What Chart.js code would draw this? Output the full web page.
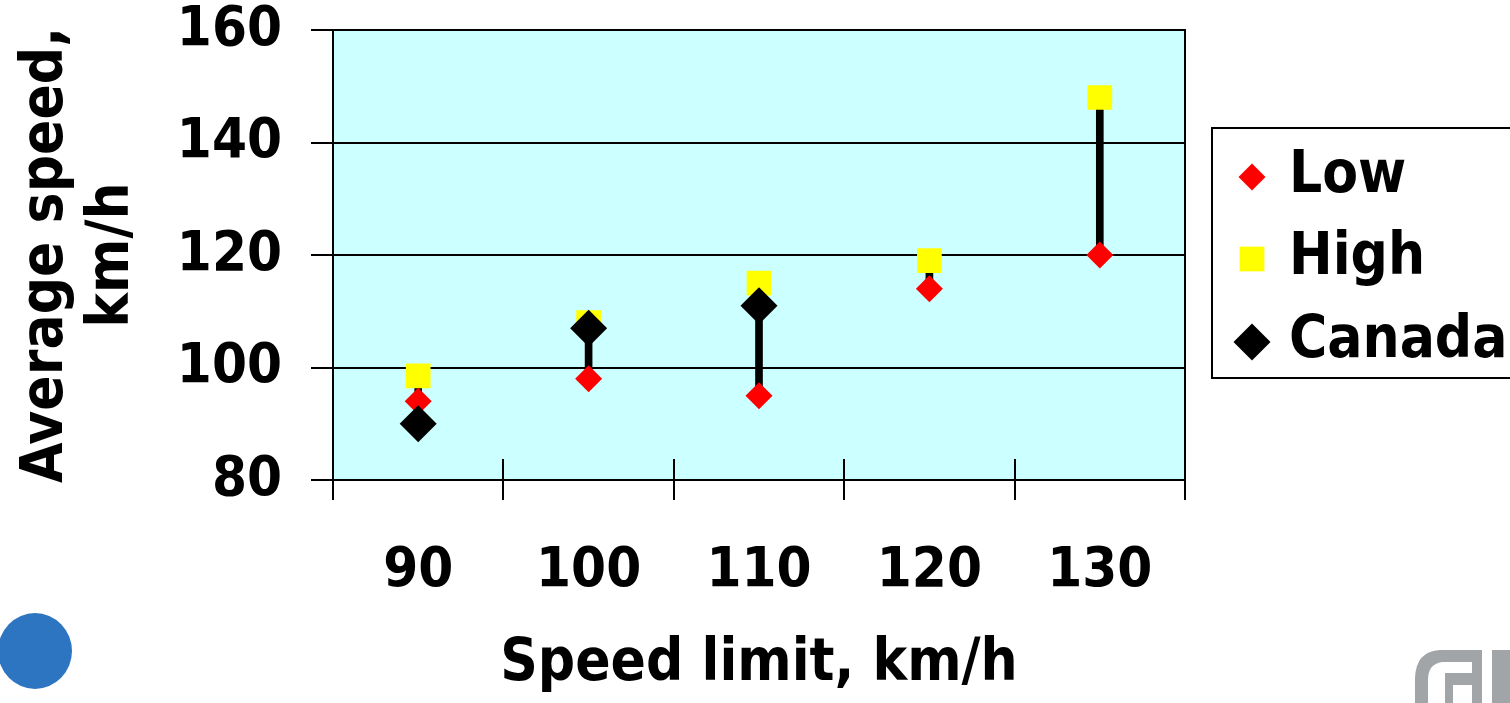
<!DOCTYPE html>
<html>
<head>
<meta charset="utf-8">
<script src="https://cdn.jsdelivr.net/npm/chart.js@4.4.0/dist/chart.umd.min.js"></script>
<style>
  html, body { margin: 0; padding: 0; background: #fff; overflow: hidden; }
  #wrap { position: relative; width: 1510px; height: 703px; }
</style>
</head>
<body>
<div id="wrap"><canvas id="myChart" width="1510" height="703"></canvas></div>
<script>
var speedLimits = ["90", "100", "110", "120", "130"];
var lowValues = [94, 98, 95, 114, 120];
var highValues = [98.5, 108, 115, 119, 148];
var canadaValues = [90, 107, 111, null, null];
var yTicks = [80, 100, 120, 140, 160];

var FONT = '"DejaVu Sans Condensed", "DejaVu Sans", sans-serif';

// black high-low lines, built from the two series
var rangeValues = lowValues.map(function (v, i) { return [v, highValues[i]]; });

var framePlugin = {
  id: "frame",
  beforeDraw: function (chart) {
    var a = chart.chartArea, ctx = chart.ctx;
    ctx.save();
    ctx.fillStyle = "#CCFFFF";
    ctx.fillRect(a.left, a.top, a.right - a.left, a.bottom - a.top);
    ctx.restore();
  },
  beforeDatasetsDraw: function (chart) {
    var a = chart.chartArea, ctx = chart.ctx, x = chart.scales.x;
    ctx.save();
    ctx.strokeStyle = "#000";
    ctx.lineWidth = 2;
    ctx.strokeRect(a.left, a.top, a.right - a.left, a.bottom - a.top);
    // category boundary ticks, crossing the axis
    for (var i = 0; i <= speedLimits.length; i++) {
      var px = Math.round(x.getPixelForValue(i - 0.5));
      ctx.beginPath();
      ctx.moveTo(px, a.bottom - 21);
      ctx.lineTo(px, a.bottom + 20);
      ctx.stroke();
    }
    ctx.restore();
  },
  afterDraw: function (chart) {
    var ctx = chart.ctx;
    ctx.save();
    // legend
    ctx.strokeStyle = "#000";
    ctx.lineWidth = 2;
    ctx.strokeRect(1212, 128, 340, 250);
    var rows = [177, 259, 342];
    var sets = chart.data.datasets.filter(function (d) { return d.type === "line"; });
    sets.forEach(function (d, i) {
      ctx.fillStyle = d.pointBackgroundColor;
      Chart.helpers.drawPoint(ctx, { pointStyle: d.pointStyle, radius: d.pointRadius, rotation: 0, borderWidth: 0 }, 1252, rows[i]);
      ctx.fillStyle = "#000";
      ctx.font = "bold 58px " + FONT;
      ctx.textBaseline = "middle";
      ctx.textAlign = "left";
      ctx.fillText(d.label, 1289, rows[i]);
    });
    // decorations
    ctx.fillStyle = "#2E75C1";
    ctx.beginPath();
    ctx.ellipse(35, 651, 37, 38, 0, 0, Math.PI * 2);
    ctx.fill();
    ctx.fillStyle = "#A2A5A8";
    ctx.beginPath();
    ctx.moveTo(1440, 650); ctx.lineTo(1482, 650); ctx.lineTo(1482, 662);
    ctx.lineTo(1442, 662); ctx.quadraticCurveTo(1428, 664, 1428, 680);
    ctx.lineTo(1428, 703); ctx.lineTo(1415, 703); ctx.lineTo(1415, 678);
    ctx.quadraticCurveTo(1416, 651, 1440, 650);
    ctx.fill();
    ctx.fillRect(1445, 673, 37, 12);
    ctx.fillRect(1445, 673, 8, 30);
    ctx.fillRect(1472, 650, 10, 53);
    ctx.fillRect(1492, 650, 18, 53);
    ctx.restore();
  }
};

new Chart("myChart", {
  type: "bar",
  data: {
    labels: speedLimits,
    datasets: [
      { type: "line", label: "Low", data: lowValues, showLine: false, pointStyle: "rectRot",
        pointRadius: 13.5, pointHoverRadius: 13.5, pointBackgroundColor: "#FF0000", pointBorderWidth: 0, order: 2 },
      { type: "line", label: "High", data: highValues, showLine: false, pointStyle: "rect",
        pointRadius: 17.5, pointHoverRadius: 17.5, pointBackgroundColor: "#FFFF00", pointBorderWidth: 0, order: 3 },
      { type: "line", label: "Canada", data: canadaValues, showLine: false, pointStyle: "rectRot",
        pointRadius: 18.5, pointHoverRadius: 18.5, pointBackgroundColor: "#000000", pointBorderWidth: 0, order: 1 },
      { type: "bar", label: "range", data: rangeValues, backgroundColor: "#000000", barThickness: 7, order: 4 }
    ]
  },
  plugins: [framePlugin],
  options: {
    responsive: false,
    animation: false,
    devicePixelRatio: 1,
    events: [],
    layout: { padding: { top: 0, right: 325, left: 0, bottom: 0 } },
    plugins: { legend: { display: false }, tooltip: { enabled: false } },
    scales: {
      x: {
        afterFit: function (s) { s.height = 223; },
        grid: { display: false, drawTicks: false },
        border: { display: false },
        ticks: { color: "#000", padding: 58, font: { family: FONT, size: 56, weight: "bold", lineHeight: 1.2 } },
        title: { display: true, text: "Speed limit, km/h", color: "#000", padding: { top: 0, bottom: 3 },
          font: { family: FONT, size: 58, weight: "bold", lineHeight: 1.2 } }
      },
      y: {
        min: 80, max: 160,
        afterFit: function (s) { s.width = 333; s.paddingTop = 30; s.paddingBottom = 28; },
        afterBuildTicks: function (s) { s.ticks = yTicks.map(function (v) { return { value: v }; }); },
        grid: { color: "#000", lineWidth: 2, tickLength: 22 },
        border: { display: true, color: "#000", width: 2 },
        ticks: { color: "#000", padding: 29, font: { family: FONT, size: 56, weight: "bold", lineHeight: 1 } },
        title: { display: true, text: ["Average speed,", "km/h"], color: "#000", padding: { top: 14, bottom: 0 },
          font: { family: FONT, size: 58, weight: "bold", lineHeight: 1.14 } }
      }
    }
  }
});
</script>
</body>
</html>
